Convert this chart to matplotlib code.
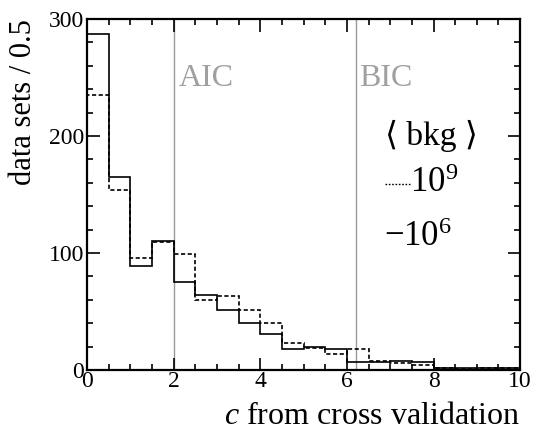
import numpy as np
import matplotlib
matplotlib.use("Agg")
import matplotlib.pyplot as plt
from matplotlib.ticker import MultipleLocator

plt.rcParams['font.family'] = ['Liberation Serif', 'DejaVu Serif']
plt.rcParams['mathtext.fontset'] = 'custom'
plt.rcParams['mathtext.rm'] = 'Liberation Serif'
plt.rcParams['mathtext.it'] = 'Liberation Serif:italic'

bin_edges = np.arange(0, 10.01, 0.5)
counts_1e6 = [287, 165, 89, 110, 75, 64, 51, 40, 31, 18, 20, 18, 7, 7, 8, 6.5, 2, 1.5, 2, 1.5]
counts_1e9 = [235, 154, 96, 109, 99, 60, 63, 51, 40, 23, 19, 13.5, 17.7, 8, 5.7, 4.5, 1.5, 1, 1.5, 2]
aic_c = 2.0
bic_c = 6.21

fig = plt.figure(figsize=(5.34, 4.32), dpi=100)
ax = fig.add_axes([0.163, 0.1435, 0.811, 0.8125])

ax.stairs(counts_1e6, bin_edges, color='black', lw=1.2)
ax.stairs(counts_1e9, bin_edges, color='black', lw=1.2, ls=(0, (2.5, 1.5)))

ax.axvline(aic_c, color='#999999', lw=1.0, zorder=0)
ax.axvline(bic_c, color='#999999', lw=1.0, zorder=0)
ax.text(aic_c + 0.12, 249, 'AIC', color='#a0a0a0', fontsize=23, va='center', ha='left')
ax.text(bic_c + 0.07, 249, 'BIC', color='#a0a0a0', fontsize=23, va='center', ha='left')

ax.set_xlim(0, 10)
ax.set_ylim(0, 300)
ax.xaxis.set_major_locator(MultipleLocator(2))
ax.xaxis.set_minor_locator(MultipleLocator(0.5))
ax.yaxis.set_major_locator(MultipleLocator(100))
ax.yaxis.set_minor_locator(MultipleLocator(20))
ax.tick_params(which='both', direction='in', top=True, right=True, labelsize=17, width=1.2)
ax.tick_params(which='major', length=9)
ax.tick_params(which='minor', length=4.5)
ax.tick_params(axis='x', pad=1)
ax.tick_params(axis='y', pad=2)
for s in ax.spines.values():
    s.set_linewidth(1.6)

ax.set_xlabel(r'$c$ from cross validation', fontsize=23, loc='right', labelpad=7)
ax.set_ylabel('data sets / 0.5', fontsize=22, loc='top', labelpad=8)

# legend as text
ax.text(0.688, 0.668, '\u27e8 bkg \u27e9', transform=ax.transAxes, fontsize=24, ha='left', va='center')
ax.plot([0.688, 0.745], [0.53, 0.53], transform=ax.transAxes, color='black', lw=1.0, ls=(0, (1.2, 1.2)))
ax.text(0.745, 0.532, r'$10^{9}$', transform=ax.transAxes, fontsize=25, ha='left', va='center')
ax.text(0.685, 0.378, r'$-10^{6}$', transform=ax.transAxes, fontsize=25, ha='left', va='center')

fig.savefig('out.png', dpi=100)
